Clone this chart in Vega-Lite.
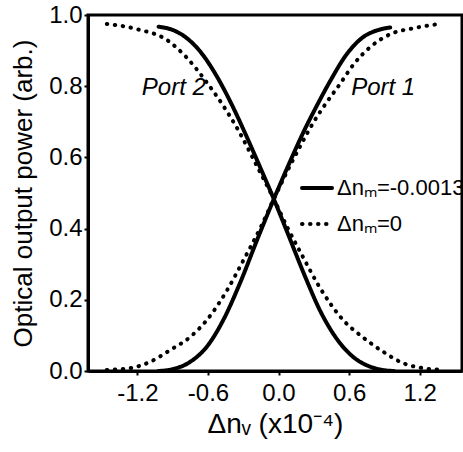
{
  "$schema": "https://vega.github.io/schema/vega-lite/v6.json",
  "width": 374,
  "height": 356,
  "autosize": {"type": "none"},
  "padding": {"left": 88, "top": 15, "right": 1, "bottom": 81},
  "background": "white",
  "config": {
    "view": {"stroke": "black", "strokeWidth": 3},
    "axis": {
      "grid": false,
      "domainColor": "black",
      "domainWidth": 3,
      "tickColor": "black",
      "tickWidth": 2,
      "tickSize": 4,
      "labelFont": "Liberation Sans",
      "labelFontSize": 24,
      "labelColor": "black",
      "titleFont": "Liberation Sans",
      "titleFontWeight": "normal",
      "titleColor": "black",
      "titleLimit": 1000
    }
  },
  "layer": [
    {
      "data": {
        "values": [
          {"x": -1.02, "y": 0.0, "port": "Port 1", "case": "Δnₘ=-0.0013"},
          {"x": -0.9, "y": 0.005, "port": "Port 1", "case": "Δnₘ=-0.0013"},
          {"x": -0.75, "y": 0.026, "port": "Port 1", "case": "Δnₘ=-0.0013"},
          {"x": -0.61, "y": 0.068, "port": "Port 1", "case": "Δnₘ=-0.0013"},
          {"x": -0.47, "y": 0.143, "port": "Port 1", "case": "Δnₘ=-0.0013"},
          {"x": -0.33, "y": 0.245, "port": "Port 1", "case": "Δnₘ=-0.0013"},
          {"x": -0.18, "y": 0.37, "port": "Port 1", "case": "Δnₘ=-0.0013"},
          {"x": -0.04, "y": 0.483, "port": "Port 1", "case": "Δnₘ=-0.0013"},
          {"x": 0.1, "y": 0.59, "port": "Port 1", "case": "Δnₘ=-0.0013"},
          {"x": 0.225, "y": 0.68, "port": "Port 1", "case": "Δnₘ=-0.0013"},
          {"x": 0.33, "y": 0.748, "port": "Port 1", "case": "Δnₘ=-0.0013"},
          {"x": 0.44, "y": 0.815, "port": "Port 1", "case": "Δnₘ=-0.0013"},
          {"x": 0.58, "y": 0.89, "port": "Port 1", "case": "Δnₘ=-0.0013"},
          {"x": 0.72, "y": 0.938, "port": "Port 1", "case": "Δnₘ=-0.0013"},
          {"x": 0.85, "y": 0.958, "port": "Port 1", "case": "Δnₘ=-0.0013"},
          {"x": 0.95, "y": 0.965, "port": "Port 1", "case": "Δnₘ=-0.0013"},

          {"x": -1.02, "y": 0.967, "port": "Port 2", "case": "Δnₘ=-0.0013"},
          {"x": -0.9, "y": 0.958, "port": "Port 2", "case": "Δnₘ=-0.0013"},
          {"x": -0.8, "y": 0.94, "port": "Port 2", "case": "Δnₘ=-0.0013"},
          {"x": -0.66, "y": 0.895, "port": "Port 2", "case": "Δnₘ=-0.0013"},
          {"x": -0.52, "y": 0.825, "port": "Port 2", "case": "Δnₘ=-0.0013"},
          {"x": -0.4, "y": 0.75, "port": "Port 2", "case": "Δnₘ=-0.0013"},
          {"x": -0.28, "y": 0.665, "port": "Port 2", "case": "Δnₘ=-0.0013"},
          {"x": -0.16, "y": 0.575, "port": "Port 2", "case": "Δnₘ=-0.0013"},
          {"x": -0.04, "y": 0.483, "port": "Port 2", "case": "Δnₘ=-0.0013"},
          {"x": 0.08, "y": 0.385, "port": "Port 2", "case": "Δnₘ=-0.0013"},
          {"x": 0.22, "y": 0.27, "port": "Port 2", "case": "Δnₘ=-0.0013"},
          {"x": 0.36, "y": 0.165, "port": "Port 2", "case": "Δnₘ=-0.0013"},
          {"x": 0.5, "y": 0.088, "port": "Port 2", "case": "Δnₘ=-0.0013"},
          {"x": 0.64, "y": 0.038, "port": "Port 2", "case": "Δnₘ=-0.0013"},
          {"x": 0.78, "y": 0.012, "port": "Port 2", "case": "Δnₘ=-0.0013"},
          {"x": 0.9, "y": 0.002, "port": "Port 2", "case": "Δnₘ=-0.0013"},
          {"x": 0.98, "y": 0.0, "port": "Port 2", "case": "Δnₘ=-0.0013"},

          {"x": -1.46, "y": 0.003, "port": "Port 1", "case": "Δnₘ=0"},
          {"x": -1.26, "y": 0.008, "port": "Port 1", "case": "Δnₘ=0"},
          {"x": -1.09, "y": 0.026, "port": "Port 1", "case": "Δnₘ=0"},
          {"x": -0.92, "y": 0.059, "port": "Port 1", "case": "Δnₘ=0"},
          {"x": -0.75, "y": 0.096, "port": "Port 1", "case": "Δnₘ=0"},
          {"x": -0.61, "y": 0.143, "port": "Port 1", "case": "Δnₘ=0"},
          {"x": -0.45, "y": 0.22, "port": "Port 1", "case": "Δnₘ=0"},
          {"x": -0.3, "y": 0.31, "port": "Port 1", "case": "Δnₘ=0"},
          {"x": -0.15, "y": 0.405, "port": "Port 1", "case": "Δnₘ=0"},
          {"x": -0.04, "y": 0.483, "port": "Port 1", "case": "Δnₘ=0"},
          {"x": 0.08, "y": 0.565, "port": "Port 1", "case": "Δnₘ=0"},
          {"x": 0.19, "y": 0.635, "port": "Port 1", "case": "Δnₘ=0"},
          {"x": 0.3, "y": 0.7, "port": "Port 1", "case": "Δnₘ=0"},
          {"x": 0.41, "y": 0.755, "port": "Port 1", "case": "Δnₘ=0"},
          {"x": 0.52, "y": 0.805, "port": "Port 1", "case": "Δnₘ=0"},
          {"x": 0.64, "y": 0.862, "port": "Port 1", "case": "Δnₘ=0"},
          {"x": 0.78, "y": 0.91, "port": "Port 1", "case": "Δnₘ=0"},
          {"x": 0.95, "y": 0.946, "port": "Port 1", "case": "Δnₘ=0"},
          {"x": 1.15, "y": 0.963, "port": "Port 1", "case": "Δnₘ=0"},
          {"x": 1.37, "y": 0.975, "port": "Port 1", "case": "Δnₘ=0"},

          {"x": -1.46, "y": 0.975, "port": "Port 2", "case": "Δnₘ=0"},
          {"x": -1.2, "y": 0.96, "port": "Port 2", "case": "Δnₘ=0"},
          {"x": -0.95, "y": 0.93, "port": "Port 2", "case": "Δnₘ=0"},
          {"x": -0.78, "y": 0.88, "port": "Port 2", "case": "Δnₘ=0"},
          {"x": -0.62, "y": 0.815, "port": "Port 2", "case": "Δnₘ=0"},
          {"x": -0.48, "y": 0.75, "port": "Port 2", "case": "Δnₘ=0"},
          {"x": -0.34, "y": 0.675, "port": "Port 2", "case": "Δnₘ=0"},
          {"x": -0.19, "y": 0.58, "port": "Port 2", "case": "Δnₘ=0"},
          {"x": -0.04, "y": 0.483, "port": "Port 2", "case": "Δnₘ=0"},
          {"x": 0.08, "y": 0.4, "port": "Port 2", "case": "Δnₘ=0"},
          {"x": 0.2, "y": 0.325, "port": "Port 2", "case": "Δnₘ=0"},
          {"x": 0.35, "y": 0.235, "port": "Port 2", "case": "Δnₘ=0"},
          {"x": 0.55, "y": 0.143, "port": "Port 2", "case": "Δnₘ=0"},
          {"x": 0.72, "y": 0.094, "port": "Port 2", "case": "Δnₘ=0"},
          {"x": 0.89, "y": 0.054, "port": "Port 2", "case": "Δnₘ=0"},
          {"x": 1.06, "y": 0.022, "port": "Port 2", "case": "Δnₘ=0"},
          {"x": 1.23, "y": 0.008, "port": "Port 2", "case": "Δnₘ=0"},
          {"x": 1.4, "y": 0.003, "port": "Port 2", "case": "Δnₘ=0"}
        ]
      },
      "mark": {"type": "line", "color": "black", "strokeWidth": 4, "strokeCap": "round", "interpolate": "monotone"},
      "encoding": {
        "x": {
          "field": "x",
          "type": "quantitative",
          "scale": {"domain": [-1.62, 1.56], "nice": false, "zero": false},
          "axis": {
            "values": [-1.2, -0.6, 0, 0.6, 1.2],
            "labelExpr": "replace(format(datum.value, '.1f'), '−', '-')",
            "title": "Δnᵥ (x10⁻⁴)",
            "titleFontSize": 28,
            "labelPadding": 6,
            "titlePadding": 5
          }
        },
        "y": {
          "field": "y",
          "type": "quantitative",
          "scale": {"domain": [0, 1], "nice": false},
          "axis": {
            "values": [0, 0.2, 0.4, 0.6, 0.8, 1.0],
            "format": ".1f",
            "title": "Optical output power (arb.)",
            "titleFontSize": 26,
            "labelPadding": 2,
            "titlePadding": 12
          }
        },
        "detail": {"field": "port"},
        "strokeDash": {
          "field": "case",
          "type": "nominal",
          "scale": {"domain": ["Δnₘ=-0.0013", "Δnₘ=0"], "range": [[1, 0], [0.5, 7.5]]},
          "legend": {
            "title": null,
            "orient": "none",
            "legendX": 212,
            "legendY": 156,
            "symbolType": "stroke",
            "symbolSize": 900,
            "symbolStrokeWidth": 4,
            "symbolStrokeColor": "black",
            "labelFontSize": 22,
            "labelFont": "Liberation Sans",
            "labelColor": "black",
            "labelOffset": 3,
            "rowPadding": 8,
            "padding": 0,
            "labelLimit": 300,
            "encode": {"symbols": {"update": {"strokeCap": {"value": "round"}}}}
          }
        }
      }
    },
    {
      "data": {
        "values": [
          {"x": -0.89, "y": 0.795, "label": "Port 2"},
          {"x": 0.89, "y": 0.795, "label": "Port 1"}
        ]
      },
      "mark": {"type": "text", "font": "Liberation Sans", "fontStyle": "italic", "fontSize": 24, "color": "black", "baseline": "middle", "align": "center"},
      "encoding": {
        "x": {"field": "x", "type": "quantitative"},
        "y": {"field": "y", "type": "quantitative"},
        "text": {"field": "label"}
      }
    }
  ]
}
